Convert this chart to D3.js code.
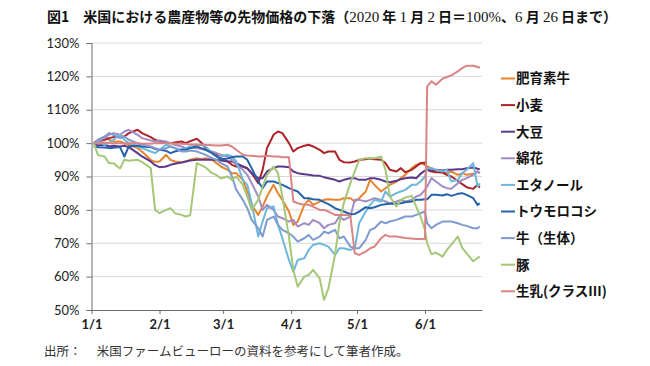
<!DOCTYPE html>
<html><head><meta charset="utf-8">
<script src="https://cdn.jsdelivr.net/npm/d3@7/dist/d3.min.js"></script>
<style>
html,body{margin:0;padding:0;background:#fff;}
svg{display:block;}
</style></head>
<body><svg id="c" width="650" height="366"></svg>
<script>
// ---- data ----
const dates = ["01-02","01-04","01-07","01-09","01-11","01-14","01-16","01-18","01-22","01-24","01-28","01-30",
"02-01","02-04","02-06","02-08","02-11","02-13","02-15","02-18","02-20","02-22","02-25","02-27","02-29",
"03-03","03-05","03-07","03-10","03-12","03-14","03-17","03-19","03-21","03-24","03-26","03-28","03-31",
"04-02","04-04","04-07","04-09","04-11","04-14","04-16","04-18","04-21","04-23","04-25","04-28","04-30",
"05-02","05-05","05-07","05-09","05-12","05-14","05-16","05-19","05-21","05-23","05-26","05-28","05-30",
"06-01","06-02","06-04","06-06","06-09","06-11","06-13","06-16","06-18","06-20","06-23","06-25","06-26"];

const feederCattle = [100,101,101.8,101,100.5,100.5,100,99.5,98.5,97.5,95,94.4,
94.5,96.5,95,94.5,94.2,94.5,95,95.5,95.2,95.5,95,94,93,
92,91,91,89,85.5,81.5,78.5,81,84,87.5,85,83,79.5,
75.5,76.5,81.5,83,81.5,82.5,83,83.2,83,83,83.5,83.5,82.5,
83.5,85.5,89,87.5,85.5,86.5,87.5,88.5,89.5,90.5,92.5,93.5,94,
93.5,93,92.5,91.8,91.3,91,91.5,90.5,91,90.5,90.8,91.5,91];
const wheat = [100,100.5,101,101.5,101.8,102,102,103,104,103,101.8,101,
100.5,100,100,100.2,100.5,100,100.6,101.3,100.2,98.5,97,96.5,95.5,
94.5,93.5,93,93,92.4,91,88,92,98.5,102.5,103.5,103,100,
97.5,98.5,99.2,99.5,99,98,97,97.5,97.5,95,94.3,94.2,94.5,
95,95.2,95.4,95.2,95,94,92,91.5,92.5,91.3,92,93,94,
94.2,92,91.5,91.3,91.2,90.5,90,88.7,87.7,86.8,86.3,87.5,86.7];
const soybean = [100,99.3,99.5,99,99.2,99,99.2,98.8,97,96,94.5,93.4,
92.8,93,93.5,93.8,94.2,94.5,94.8,95,95,95,95,95,94.8,
94.5,94.5,94,93,92.5,91,89.5,89.5,91.5,92.5,93,93,92.8,
91.5,91,90.7,90.5,90.3,90.2,89.8,89.5,89,88.5,89,89.5,89.5,
89,89,89.5,89.5,89,88.5,88.3,88.7,89.2,89.5,89.7,89.5,90.8,
91.8,92,91.8,92,91.8,92,92,92.2,92.2,92.5,92.7,92.3,92.2];
const cotton = [100,100.5,101.5,102.5,103,102.5,103.5,104,102.5,101.5,100.8,100.5,
100.8,100.5,100,99.5,99,98.5,98.7,98.5,98.2,98,97.5,97,96.5,
96,95,93.5,92,90.5,88,84,80,81.5,80,78,77.5,76.5,
77,75,76,75.5,77,76,74.5,75.5,76,78,77,78,83,
83,82.5,83,83.5,83,82.5,82,82.5,83,82.5,83,84,84.5,
86,87,89.5,88.5,87,86.5,86.3,88,89,89.5,90.5,91.5,91];
const ethanol = [100,100.5,99.5,100,101,102.5,101,100,99,98.5,97.5,97,
98,99.5,99,98.5,98,98.5,99,99.2,99.5,99,97,96,96,
96.5,96,94.5,89,87.5,82,72,76.5,80.5,81,75.5,71.5,65,
61.5,65,65.5,68,69.5,70,69.5,69,66.5,68.5,68.5,68,68.5,
76,79.5,81.5,83,82.5,85.5,84,85,85.5,86,87.5,87.5,88.5,
90,92.5,92.5,92,91.5,92,88.5,89,91,92,94,87,88];
const corn = [99,98.8,98.7,98.5,98.6,98.8,96,99,99.3,99,98.8,98.3,
98,97.7,97,97.5,98,98,98.5,99,98.5,98,97,96,95.2,
95.4,95.8,96,96,95,92.5,88.5,86.5,88.5,88.5,88,87.5,86.5,
86,85.5,83.5,83.5,83.2,83,82.3,81.7,80.5,80,79.5,78.7,78.8,
79.5,80.8,80.5,80.8,81.5,81.7,81.8,81.8,82,82.3,82.5,83,83,
83.2,83.2,84.5,84.5,84.3,84.7,84.2,84.8,85,84.5,83.5,81.5,82];
const liveCattle = [100,101,102,103,102.5,101.5,102,101,100,99.5,99,98.5,
98,98.5,99,98.5,97.5,97.5,97.8,97.5,97,96.5,95.5,95,94,
93,90,86,83,80.5,77,74.5,72,77,78,75.5,74,73,
72,70.5,71.5,72.5,71,72,73.5,73,74,71.5,72,69,68.5,
68.5,71,74,74.5,76.5,76,76.5,77,77.5,78,78,78.5,79,
79.5,76,74.5,75.5,76.5,76.5,76.5,76,75.5,75.2,74.5,74.5,75];
const hogs = [100,96.4,96,94,94,92.4,95,94.7,95,94.4,92.5,80,
79,80,80.5,79,78.5,78,78.4,94,93.4,92.7,91,90.4,89.4,
90,89,90,87.5,84,80,83,87,90.5,93,91,84,72,
62,57,60,60.5,62,59.5,53,56.5,66.5,76,82,88,91.5,
95,95.5,95.5,95.5,96,92,84,81,83,83.7,84.2,81,78,
74,70,66.7,67.2,66,68,69.6,72,68.6,67,64.6,65.6,66];
const milk = [100,100,100.2,100,100,100,99.8,100,100,99.8,99.8,100,
100,100,100,99.8,99.8,99.7,99.6,99.6,99.6,99.5,99.4,99.3,99.3,
99.5,99,98,96.5,96.3,96.2,96,96,96.2,96,96,95.8,95.8,
82.5,82,81.5,81.5,81,80,80,79.5,78.5,78.5,78.5,78.3,67,
66.5,67.5,68.5,69,71.5,72.5,72,72,71.8,71.6,71.4,71.3,71.3,
71.2,117,118.5,117.5,119.3,119.8,120.3,121.5,122.5,123.2,123.2,122.8,122.6];

const seriesNames = ["肥育素牛","小麦","大豆","綿花","エタノール","トウモロコシ","牛（生体）","豚","生乳(クラスIII)"];
const seriesValues = [feederCattle, wheat, soybean, cotton, ethanol, corn, liveCattle, hogs, milk];
const seriesColors = ["#E8832E","#AE2228","#5B3A8E","#A08CC6","#6DB7DB","#2463AA","#7F9BD0","#A5C777","#DB8486"];
const yTicks = [50,60,70,80,90,100,110,120,130];
const xTickLabels = ["1/1","2/1","3/1","4/1","5/1","6/1"];
const xTickDates = ["01-01","02-01","03-01","04-01","05-01","06-01"];

// ---- drawing ----
const parse = s => d3.timeParse("%Y-%m-%d")("2020-" + s);
const svg = d3.select("#c");
const x = d3.scaleTime().domain([parse("01-01"), parse("06-27")]).range([91.5, 482]);
const y = d3.scaleLinear().domain([50, 130]).range([310, 43]);

// gridlines
svg.append("g").selectAll("line").data(yTicks.filter(t => t > 50)).join("line")
  .attr("x1", 92).attr("x2", 482).attr("y1", d => y(d)).attr("y2", d => y(d))
  .attr("stroke", "#D9D9D9").attr("stroke-width", 1);

// y axis
const yAxis = svg.append("g").attr("transform", "translate(91.5,0)")
  .call(d3.axisLeft(y).tickValues(yTicks).tickFormat(d => d + "%").tickSize(5).tickPadding(7));
yAxis.select(".domain").attr("stroke", "#6b6b6b");
yAxis.selectAll(".tick line").attr("stroke", "#6b6b6b");
yAxis.selectAll("text").attr("font-family", "Lato, 'Open Sans', sans-serif").attr("font-size", 13).attr("fill", "#222");

// x axis
const xAxis = svg.append("g").attr("transform", "translate(0,310)")
  .call(d3.axisBottom(x).tickValues(xTickDates.map(parse)).tickFormat((d, i) => xTickLabels[i]).tickSize(4).tickSizeOuter(0).tickPadding(6));
xAxis.select(".domain").attr("stroke", "#6b6b6b");
xAxis.selectAll(".tick line").attr("stroke", "#6b6b6b");
xAxis.selectAll("text").attr("font-family", "Lato, 'Open Sans', sans-serif").attr("font-size", 13).attr("font-weight", "bold").attr("fill", "#222");

// lines
const line = d3.line().x((d, i) => x(parse(dates[i]))).y(d => y(d));
svg.append("g").selectAll("path").data(seriesValues).join("path")
  .attr("d", d => line(d)).attr("fill", "none")
  .attr("stroke", (d, i) => seriesColors[i]).attr("stroke-width", 2)
  .attr("stroke-linejoin", "round");

// legend
const lg = svg.append("g");
seriesNames.forEach((n, i) => {
  const yy = 78.5 + i * 26.6;
  lg.append("line").attr("x1", 501).attr("x2", 515).attr("y1", yy).attr("y2", yy)
    .attr("stroke", seriesColors[i]).attr("stroke-width", 2);
  lg.append("text").attr("x", 516).attr("y", yy).attr("dy", "0.36em")
    .attr("font-family", "'Noto Sans CJK JP', sans-serif").attr("font-size", 13.5).attr("font-weight", "bold")
    .attr("fill", "#111").text(n);
});

// title
const titleParts = [["図1　米国における農産物等の先物価格の下落（","g"],["2020","s"],[" 年 ","g"],["1","s"],[" 月 ","g"],["2","s"],[" 日＝","g"],["100%","s"],["、","g"],["6","s"],[" 月 ","g"],["26","s"],[" 日まで）","g"]];
const t = svg.append("text").attr("x", 332).attr("y", 22).attr("text-anchor", "middle").attr("font-size", 14).attr("fill", "#111");
titleParts.forEach(p => {
  t.append("tspan").text(p[0])
    .attr("font-family", p[1] === "s" ? "'Liberation Serif', serif" : "'Noto Sans CJK JP', sans-serif")
    .attr("font-weight", p[1] === "s" ? "normal" : "bold")
    .attr("font-size", p[1] === "s" ? 15 : 14);
});

// source
svg.append("text").attr("x", 44).attr("y", 356)
  .attr("font-family", "'Noto Sans CJK JP', sans-serif").attr("font-size", 12.5).attr("fill", "#333")
  .attr("xml:space", "preserve").text("出所：　 米国ファームビューローの資料を参考にして筆者作成。");
</script></body></html>
